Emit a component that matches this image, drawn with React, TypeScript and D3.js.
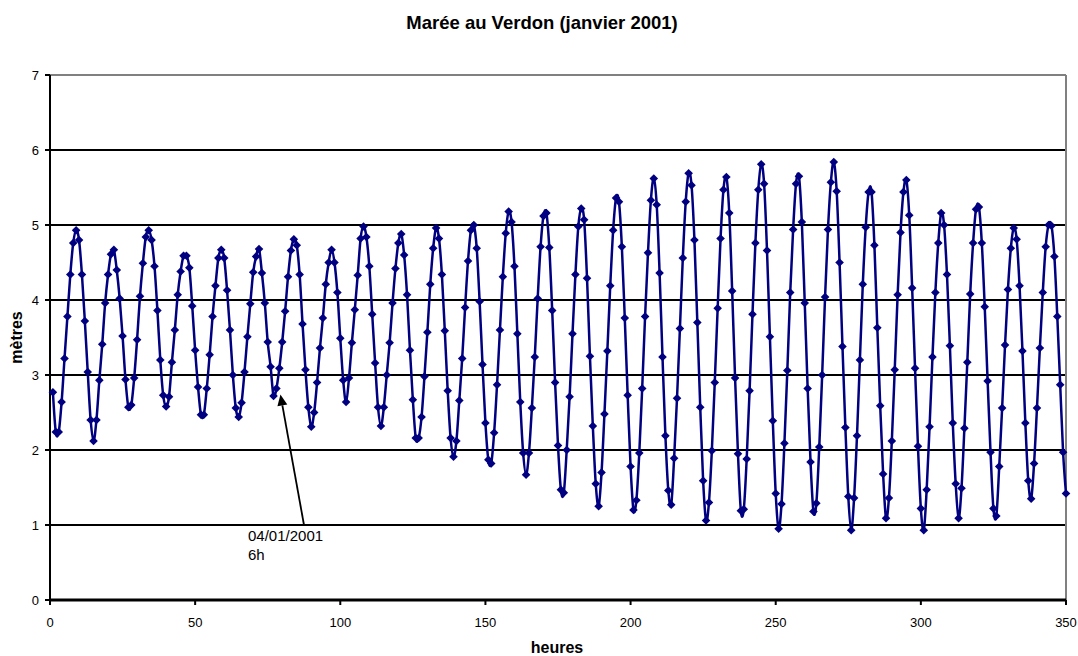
import React from "react";
import * as d3 from "d3";

// Hauteur d'eau (m), une valeur par heure à partir de h = 1
const heights: number[] = [
  2.77, 2.24, 2.24, 2.64, 3.22, 3.78, 4.34, 4.76, 4.93, 4.80,
  4.34, 3.72, 3.04, 2.40, 2.12, 2.40, 2.93, 3.41, 3.96, 4.34,
  4.61, 4.67, 4.40, 4.02, 3.52, 2.94, 2.57, 2.60, 2.96, 3.47,
  4.05, 4.49, 4.84, 4.93, 4.80, 4.45, 3.86, 3.20, 2.73, 2.58,
  2.71, 3.17, 3.60, 4.07, 4.38, 4.59, 4.59, 4.43, 3.92, 3.33,
  2.84, 2.47, 2.47, 2.82, 3.27, 3.78, 4.19, 4.56, 4.67, 4.56,
  4.13, 3.60, 3.00, 2.56, 2.44, 2.63, 3.04, 3.51, 3.95, 4.37,
  4.58, 4.68, 4.36, 3.96, 3.44, 3.11, 2.72, 2.82, 3.09, 3.44,
  3.85, 4.31, 4.66, 4.81, 4.73, 4.34, 3.68, 3.07, 2.57, 2.31,
  2.50, 2.90, 3.36, 3.76, 4.21, 4.50, 4.67, 4.50, 4.10, 3.49,
  2.93,
  2.64, 2.96, 3.43, 3.87, 4.33, 4.82, 4.98, 4.84, 4.45, 3.81,
  3.16, 2.57, 2.32, 2.57, 3.00, 3.43, 3.96, 4.42, 4.76, 4.88,
  4.60, 4.07, 3.33, 2.67, 2.16, 2.16, 2.44, 2.98, 3.57, 4.21,
  4.69, 4.96, 4.82, 4.34, 3.59, 2.79, 2.16, 1.91, 2.12, 2.66,
  3.22, 3.90, 4.52, 4.93, 5.00, 4.69, 3.98, 3.14, 2.36, 1.87,
  1.82, 2.23, 2.87, 3.60, 4.31, 4.89, 5.18, 5.04, 4.45, 3.55,
  2.64, 1.96, 1.67, 1.96, 2.56, 3.24, 4.02, 4.71, 5.12, 5.16,
  4.70, 3.86, 2.90, 2.06, 1.47, 1.43, 2.00, 2.71, 3.55, 4.34,
  4.98, 5.22, 5.07, 4.29, 3.25, 2.32, 1.55, 1.25, 1.70, 2.48,
  3.32, 4.19, 4.93, 5.36, 5.31, 4.71, 3.76, 2.73, 1.78, 1.20,
  1.33, 1.96, 2.82, 3.78, 4.63, 5.33, 5.62, 5.27, 4.36, 3.24,
  2.19, 1.46, 1.27, 1.89, 2.69, 3.62, 4.56, 5.31, 5.69, 5.53,
  4.80, 3.70, 2.57, 1.59, 1.06, 1.30, 1.99, 2.90, 3.89, 4.82,
  5.47, 5.64, 5.16, 4.12, 2.96, 1.95, 1.19, 1.21, 1.88, 2.79,
  3.81, 4.76, 5.47, 5.81, 5.55, 4.66, 3.51, 2.39, 1.42, 0.95,
  1.28, 2.09, 3.06, 4.10, 4.94, 5.55, 5.65, 5.04, 3.96, 2.82,
  1.84, 1.18, 1.29, 2.04, 3.00, 4.04, 4.94, 5.57, 5.84, 5.45,
  4.50, 3.38, 2.30, 1.38, 0.93, 1.36, 2.19, 3.20, 4.21, 4.97,
  5.44, 5.44, 4.73, 3.63, 2.59, 1.68, 1.09, 1.36, 2.12, 3.07,
  4.07, 4.90, 5.44, 5.60, 5.13, 4.16, 3.09, 2.05, 1.22, 0.93,
  1.47, 2.31, 3.24, 4.10, 4.76, 5.16, 5.00, 4.34, 3.39, 2.36,
  1.55, 1.09, 1.49, 2.29, 3.17, 4.08, 4.76, 5.21, 5.24, 4.76,
  3.91, 2.92, 1.97, 1.22, 1.12, 1.78, 2.56, 3.40, 4.14, 4.69,
  4.96, 4.81, 4.19, 3.32, 2.36, 1.59, 1.35, 1.82, 2.56, 3.36,
  4.10, 4.71, 5.00, 4.99, 4.58, 3.78, 2.87, 1.97, 1.42,
];
const hours: number[] = heights.map((_, i) => i + 1);

const xTicks: number[] = [0, 50, 100, 150, 200, 250, 300, 350];
const yTicks: number[] = [0, 1, 2, 3, 4, 5, 6, 7];

const title = "Marée au Verdon (janvier 2001)";
const xTitle = "heures";
const yTitle = "mètres";
const noteLines = ["04/01/2001", "6h"];
const noteHour = 78;

const W = 1078;
const H = 656;
const L = 50, R = 1066, T = 75, B = 600;
const FONT = "'Liberation Sans', Arial, sans-serif";
const NAVY = "#000080";

export default function App() {
  const x = d3.scaleLinear().domain([0, 350]).range([L, R]);
  const y = d3.scaleLinear().domain([0, 7]).range([B, T]);
  const pts: [number, number][] = hours.map((h, i) => [h, heights[i]]);
  const line = d3
    .line<[number, number]>()
    .x((d) => x(d[0]))
    .y((d) => y(d[1]))
    .curve(d3.curveCardinal.tension(0));
  const diamond = "M0,-4.3L4.3,0L0,4.3L-4.3,0Z";

  const nIdx = hours.indexOf(noteHour);
  const tipX = x(noteHour) + 4;
  const tipY = y(heights[nIdx]) + 6;
  const tailX = 304;
  const tailY = 525;
  const ang = Math.atan2(tipY - tailY, tipX - tailX);
  const ah = 11, aw = 5;
  const bx = tipX - ah * Math.cos(ang);
  const by = tipY - ah * Math.sin(ang);
  const head = `M${tipX},${tipY}L${bx + aw * Math.sin(ang)},${by - aw * Math.cos(ang)}L${bx - aw * Math.sin(ang)},${by + aw * Math.cos(ang)}Z`;

  return (
    <svg
      width={W}
      height={H}
      style={{ position: "absolute", left: 0, top: 0, background: "#fff" }}
      fontFamily={FONT}
    >
      <text x={542} y={29} textAnchor="middle" fontSize={18.5} fontWeight="bold">
        {title}
      </text>
      {/* grid */}
      {yTicks.filter((t) => t > 0 && t < 7).map((t) => (
        <line key={"g" + t} x1={L} x2={R} y1={y(t)} y2={y(t)} stroke="#000" strokeWidth={2} />
      ))}
      {/* plot border */}
      <line x1={L} x2={R} y1={T} y2={T} stroke="#808080" strokeWidth={2} />
      <line x1={R} x2={R} y1={T} y2={B} stroke="#808080" strokeWidth={2} />
      {/* axes */}
      <line x1={L} x2={L} y1={T} y2={B} stroke="#000" strokeWidth={2} />
      <line x1={L} x2={R} y1={B} y2={B} stroke="#000" strokeWidth={3} />
      {yTicks.map((t) => (
        <g key={"y" + t}>
          <line x1={L - 5} x2={L} y1={y(t)} y2={y(t)} stroke="#000" strokeWidth={2} />
          <text x={L - 11} y={y(t) + 4.5} textAnchor="end" fontSize={13}>
            {t}
          </text>
        </g>
      ))}
      {xTicks.map((t) => (
        <g key={"x" + t}>
          <line x1={x(t)} x2={x(t)} y1={B} y2={B + 5} stroke="#000" strokeWidth={2} />
          <text x={x(t)} y={627} textAnchor="middle" fontSize={13}>
            {t}
          </text>
        </g>
      ))}
      <text x={557} y={653} textAnchor="middle" fontSize={16} fontWeight="bold">
        {xTitle}
      </text>
      <text
        transform={`translate(22,${(T + B) / 2}) rotate(-90)`}
        textAnchor="middle"
        fontSize={16}
        fontWeight="bold"
      >
        {yTitle}
      </text>
      {/* series */}
      <path d={line(pts) || ""} fill="none" stroke={NAVY} strokeWidth={2.5} />
      {pts.map((p, i) => (
        <path key={i} d={diamond} transform={`translate(${x(p[0])},${y(p[1])})`} fill={NAVY} />
      ))}
      {/* annotation */}
      <line x1={tailX} y1={tailY} x2={bx} y2={by} stroke="#000" strokeWidth={1.8} />
      <path d={head} fill="#000" />
      <text x={248} y={541} fontSize={15}>
        {noteLines[0]}
      </text>
      <text x={248} y={560} fontSize={15}>
        {noteLines[1]}
      </text>
    </svg>
  );
}
